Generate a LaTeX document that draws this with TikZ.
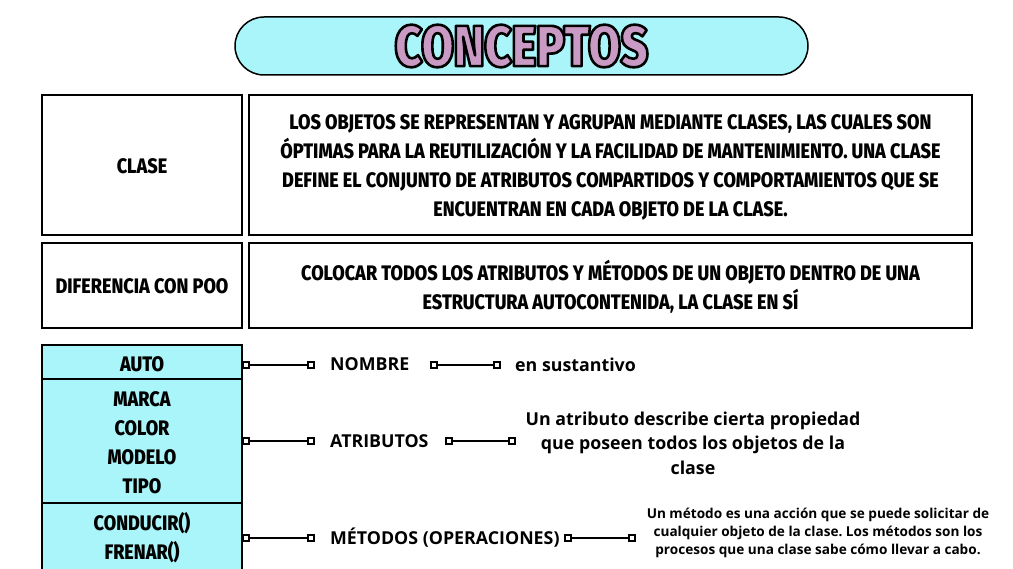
\documentclass[tikz,border=0pt]{standalone}
\usepackage{fontspec}
\setmainfont{Open Sans}
\newfontfamily\condfont{Fira Sans}[FakeStretch=0.86, BoldFont={Fira Sans ExtraBold}]
\newfontfamily\titfont{Fira Sans}[FakeStretch=0.81, BoldFont={Fira Sans Black}]
\usetikzlibrary{calc}
\definecolor{cyanf}{HTML}{A9F5F9}
\definecolor{pinkc}{HTML}{C99AC4}
\newcommand{\outlinetext}[1]{\special{pdf:literal direct 0 0 0 RG 2.6 w 1 j 2 Tr}#1\special{pdf:literal direct 0 Tr}}
\tikzset{
  box/.style={draw=black, line width=2.4pt, inner sep=0pt},
  ctext/.style={font=\condfont\bfseries\fontsize{21}{29}\selectfont, align=center},
  ltext/.style={font=\bfseries\fontsize{17.8}{19}\selectfont, align=center},
  stext/.style={font=\bfseries\fontsize{13.6}{18}\selectfont, align=center},
  sq/.style={draw=black, fill=white, line width=1.3pt, minimum size=6pt, inner sep=0pt},
  conn/.style={line width=1.3pt},
  tit/.style={font=\titfont\bfseries\fontsize{58}{58}\selectfont, inner sep=0pt},
}
\frenchspacing
\begin{document}
\begin{tikzpicture}[x=1pt,y=-1pt]
\useasboundingbox (0,0) rectangle (1013,569);
% title
\node[draw=black, line width=1.5pt, fill=cyanf, rounded corners=29pt, minimum width=573pt, minimum height=58pt] (pill) at (521.5,46) {};
\node[tit, text=pinkc] (title) at (pill.center) {\outlinetext{CONCEPTOS}};
% boxes
\node[box, minimum width=200pt, minimum height=140pt] (clase) at (142,165) {};
\node[ctext] at ($(clase.center)+(0,1)$) {CLASE};
\node[box, minimum width=723pt, minimum height=140pt] (claseD) at (610.5,165) {};
\node[ctext] at ($(claseD.center)+(0,2.5)$) {LOS OBJETOS SE REPRESENTAN Y AGRUPAN MEDIANTE CLASES, LAS CUALES SON\\ ÓPTIMAS PARA LA REUTILIZACIÓN Y LA FACILIDAD DE MANTENIMIENTO. UNA CLASE\\ DEFINE EL CONJUNTO DE ATRIBUTOS COMPARTIDOS Y COMPORTAMIENTOS QUE SE\\ ENCUENTRAN EN CADA OBJETO DE LA CLASE.};
\node[box, minimum width=200pt, minimum height=85pt] (dif) at (142,285.5) {};
\node[ctext] at ($(dif.center)+(0,1)$) {DIFERENCIA CON POO};
\node[box, minimum width=723pt, minimum height=85pt] (difD) at (610.5,285.5) {};
\node[ctext] at ($(difD.center)+(0,1)$) {COLOCAR TODOS LOS ATRIBUTOS Y MÉTODOS DE UN OBJETO DENTRO DE UNA\\ ESTRUCTURA AUTOCONTENIDA, LA CLASE EN SÍ};
% UML class
\node[box, fill=cyanf, minimum width=200pt, minimum height=34pt] (uname) at (142,362) {};
\node[box, fill=cyanf, minimum width=200pt, minimum height=124pt] (uattr) at (142,441) {};
\node[box, fill=cyanf, minimum width=200pt, minimum height=90pt] (umeth) at (142,548) {};
\node[ctext] at ($(uname.center)+(0,2)$) {AUTO};
\node[ctext] at ($(uattr.center)+(0,2)$) {MARCA\\ COLOR\\ MODELO\\ TIPO};
\node[ctext] at (142,538) {CONDUCIR()\\ FRENAR()};
% row 1
\node[sq] (a1) at (246,365) {};
\node[sq] (a2) at (311,365) {};
\draw[conn] (a1) -- (a2);
\node[ltext, anchor=west, inner sep=0pt] (nombre) at (330,364) {NOMBRE};
\node[sq] (a3) at (434,365) {};
\node[sq] (a4) at (497,365) {};
\draw[conn] (a3) -- (a4);
\node[ltext, anchor=west, inner sep=0pt] (sust) at (515,365) {en sustantivo};
% row 2
\node[sq] (b1) at (246,441) {};
\node[sq] (b2) at (311,441) {};
\draw[conn] (b1) -- (b2);
\node[ltext, anchor=west, inner sep=0pt] (atrib) at (330,441) {ATRIBUTOS};
\node[sq] (b3) at (449,441) {};
\node[sq] (b4) at (512,441) {};
\draw[conn] (b3) -- (b4);
\node[ltext, font=\bfseries\fontsize{17.8}{24.5}\selectfont] (atribD) at (693,443) {Un atributo describe cierta propiedad\\ que poseen todos los objetos de la\\ clase};
% row 3
\node[sq] (c1) at (246,538) {};
\node[sq] (c2) at (311,538) {};
\draw[conn] (c1) -- (c2);
\node[ltext, anchor=west, inner sep=0pt] (metod) at (330,538) {MÉTODOS (OPERACIONES)};
\node[sq] (c3) at (568,538) {};
\node[sq] (c4) at (632,538) {};
\draw[conn] (c3) -- (c4);
\node[stext] (metodD) at (818,533) {Un método es una acción que se puede solicitar de\\ cualquier objeto de la clase. Los métodos son los\\ procesos que una clase sabe cómo llevar a cabo.};
\end{tikzpicture}
\end{document}
